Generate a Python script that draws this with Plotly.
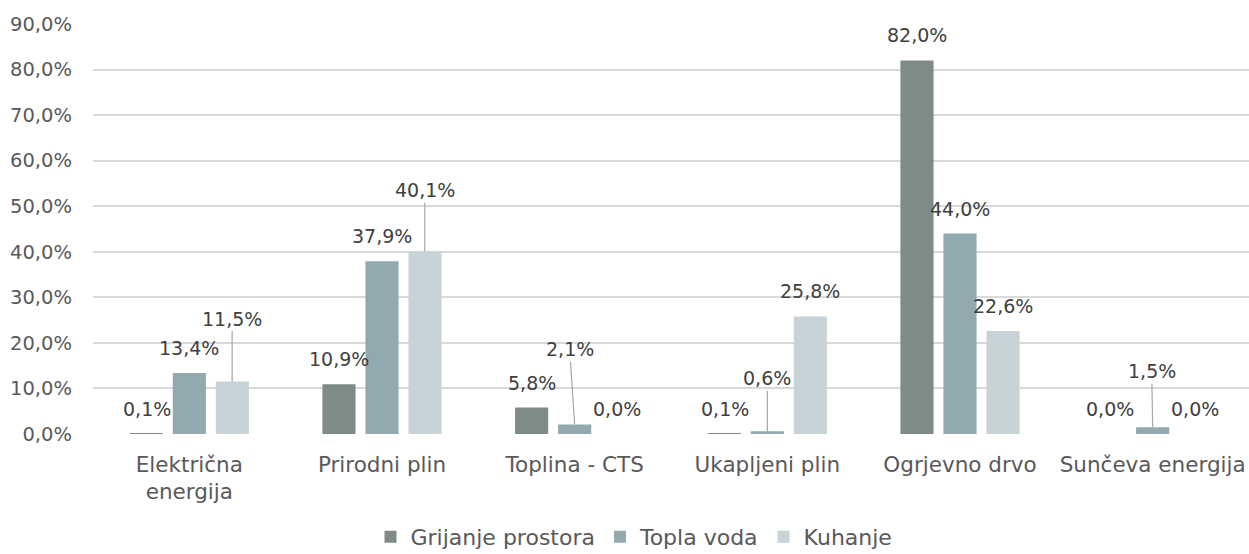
import plotly.graph_objects as go

categories = ["Električna<br>energija", "Prirodni plin", "Toplina - CTS",
              "Ukapljeni plin", "Ogrjevno drvo", "Sunčeva energija"]
series_names = ["Grijanje prostora", "Topla voda", "Kuhanje"]
grijanje = [0.1, 10.9, 5.8, 0.1, 82.0, 0.0]
topla = [13.4, 37.9, 2.1, 0.6, 44.0, 1.5]
kuhanje = [11.5, 40.1, 0.0, 25.8, 22.6, 0.0]
tick_vals = [0, 10, 20, 30, 40, 50, 60, 70, 80, 90]
tick_text = ["0,0%", "10,0%", "20,0%", "30,0%", "40,0%", "50,0%",
             "60,0%", "70,0%", "80,0%", "90,0%"]

colors = ["#7f8b89", "#92a9af", "#c8d3d8"]
series = [grijanje, topla, kuhanje]

# label placement (pixels): (series index, category index) -> (dx, dy) with leader line
leaders = {(2, 0): (0, 63), (2, 1): (0, 61), (1, 2): (-5, 75),
           (1, 3): (0, 53), (1, 5): (-1, 56)}
slot_px = 42.8

fig = go.Figure()
for name, vals, col in zip(series_names, series, colors):
    fig.add_trace(go.Bar(name=name, x=categories, y=vals,
                         marker=dict(color=col, line=dict(width=0))))

annotations = []
for si, vals in enumerate(series):
    for ci, v in enumerate(vals):
        txt = f"{v:.1f}%".replace(".", ",")
        xs = (si - 1) * slot_px
        if (si, ci) in leaders:
            dx, dy = leaders[(si, ci)]
            annotations.append(dict(
                x=categories[ci], y=v, xshift=xs, text=txt, showarrow=True,
                arrowhead=0, arrowwidth=1.2, arrowcolor="#a6a6a6",
                ax=dx, ay=-dy, standoff=0,
                font=dict(size=19, color="#404040")))
        else:
            annotations.append(dict(
                x=categories[ci], y=v, xshift=xs, yshift=25, text=txt,
                showarrow=False, yanchor="middle",
                font=dict(size=19, color="#404040")))

fig.update_layout(
    width=1249, height=554,
    margin=dict(l=93, r=0, t=24, b=120, autoexpand=False),
    paper_bgcolor="white", plot_bgcolor="white",
    font=dict(family="DejaVu Sans", color="#595959"),
    barmode="group", bargap=0.33, bargroupgap=0.23,
    annotations=annotations,
    showlegend=True,
    legend=dict(orientation="h", x=0.468, xanchor="center",
                y=-0.200, yanchor="top", font=dict(size=22, color="#595959"),
                itemwidth=30, traceorder="normal"),
    xaxis=dict(showgrid=False, showline=False, ticks="", automargin=False,
               tickfont=dict(size=21.5, color="#595959"),
               ticklabelstandoff=15),
    yaxis=dict(range=[0, 90], tickvals=tick_vals, ticktext=tick_text,
               showgrid=True, gridcolor="#d9d9d9", gridwidth=1.5,
               zeroline=False, showline=False, ticks="", automargin=False,
               tickfont=dict(size=19.5, color="#595959"),
               ticklabelstandoff=20),
)

fig.write_html(
    "out.html",
    config={"displayModeBar": False},
    post_script="document.body.style.margin='0';document.body.style.overflow='hidden';",
)
